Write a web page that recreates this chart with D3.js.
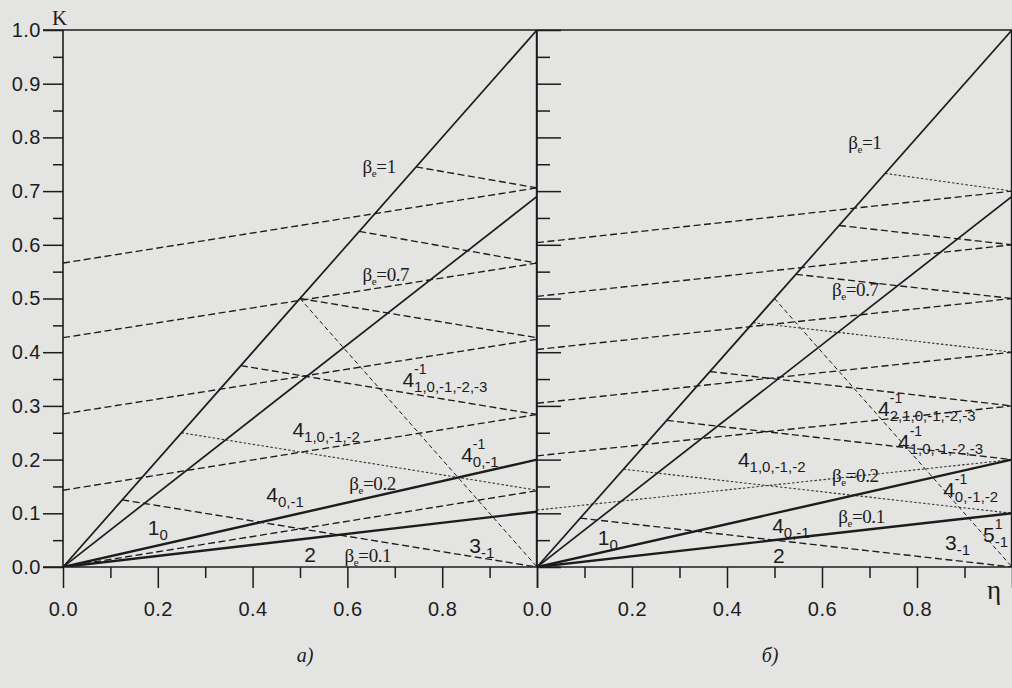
<!DOCTYPE html>
<html><head><meta charset="utf-8">
<script src="https://cdn.jsdelivr.net/npm/d3@7"></script>
<style>
html,body{margin:0;padding:0;background:#e4e4e2;}
svg{display:block;}
</style></head><body>
<svg id="c" width="1012" height="688"></svg>
<script>
// ---------- data ----------
const kTickMajor = [0,0.1,0.2,0.3,0.4,0.5,0.6,0.7,0.8,0.9,1.0];
const kTickMinor = [0.05,0.15,0.25,0.35,0.45,0.55,0.65,0.75,0.85,0.95];
const etaTickMajor = [0,0.2,0.4,0.6,0.8,1.0];
const etaTickMinor = [0.1,0.3,0.5,0.7,0.9];
const etaTickLabels = ["0.0","0.2","0.4","0.6","0.8",""];

// solid lines K = f(eta) from origin to eta=1
const betaNames = ["1","0.7","0.2","0.1"];
const betaEndA = [1.0,0.69,0.2,0.103];
const betaEndB = [1.0,0.69,0.2,0.1];

// panel a: rising dashed lines (K at eta=0 -> K at eta=1)
const riseStartA = [0,0.143,0.285,0.427,0.566];
const riseEndA   = [0.142,0.284,0.424,0.566,0.706];
const riseStyleA = ["dash","dash","dash","dash","dash"];
// panel a: falling lines leaving the beta=1 line at eta (=K) and ending at eta=1
const fallStartA = [0.125,0.25,0.375,0.5,0.625,0.745];
const fallEndA   = [0,0.143,0.284,0.427,0.566,0.706];
const fallStyleA = ["dash","dot","dash","dash","dash","dash"];

// panel b
const riseStartB = [0.106,0.207,0.305,0.405,0.504,0.604];
const riseEndB   = [0.2,0.3,0.4,0.5,0.6,0.7];
const riseStyleB = ["dot","dash","dash","dash","dash","dash"];
const fallStartB = [0.091,0.182,0.273,0.364,0.455,0.545,0.636,0.733];
const fallEndB   = [0,0.1,0.2,0.3,0.4,0.5,0.6,0.7];
const fallStyleB = ["dash","dot","dash","dash","dot","dash","dash","dot"];

// steep cut-off line (eta,K) -> (eta,K)
const cutoffLine = [[0.5,0.5],[1,0]];

// annotation texts
const orderMainA = ["4","4","4","4","1","2","3"];
const orderSubA  = ["1,0,-1,-2,-3","1,0,-1,-2","0,-1","0,-1","0","","-1"];
const orderSupA  = ["-1","","-1","","","",""];
const orderMainB = ["4","4","4","4","4","1","2","3","5"];
const orderSubB  = ["2,1,0,-1,-2,-3","1,0,-1,-2,-3","1,0,-1,-2","0,-1,-2","0,-1","0","","-1","-1"];
const orderSupB  = ["-1","-1","","-1","","","","","1"];
const panelCaptions = ["а)","б)"];

// ---------- layout ----------
const betaPosA = [[0.632,0.733],[0.632,0.532],[0.604,0.144],[0.594,0.009]];
const betaPosB = [[0.655,0.778],[0.621,0.504],[0.621,0.159],[0.634,0.082]];
const orderPosA = [[0.716,0.336],[0.484,0.243],[0.84,0.196],[0.429,0.121],[0.179,0.06],[0.509,0.009],[0.857,0.026]];
const orderPosB = [[0.718,0.281],[0.76,0.219],[0.423,0.187],[0.855,0.131],[0.495,0.063],[0.128,0.041],[0.497,0.007],[0.859,0.032],[0.939,0.047]];

const Y0 = 567, Y1 = 30;
const INK = "#1c1c1c";
const SANS = "'Liberation Sans', Arial, sans-serif";
const SERIF = "'Liberation Serif', 'Times New Roman', serif";
const svg = d3.select("#c");
svg.append("rect").attr("width",1012).attr("height",688).attr("fill","#e4e4e2");

const yS = d3.scaleLinear().domain([0,1]).range([Y0,Y1]);
const panels = [
  {x0:63, x1:537, betaEnd:betaEndA, riseS:riseStartA, riseE:riseEndA, riseSt:riseStyleA,
   fallS:fallStartA, fallE:fallEndA, fallSt:fallStyleA, betaPos:betaPosA,
   oMain:orderMainA, oSub:orderSubA, oSup:orderSupA, oPos:orderPosA, left:true, cap:panelCaptions[0], capX:305},
  {x0:537, x1:1012, betaEnd:betaEndB, riseS:riseStartB, riseE:riseEndB, riseSt:riseStyleB,
   fallS:fallStartB, fallE:fallEndB, fallSt:fallStyleB, betaPos:betaPosB,
   oMain:orderMainB, oSub:orderSubB, oSup:orderSupB, oPos:orderPosB, left:false, cap:panelCaptions[1], capX:770}
];

function styleLine(sel, st){
  if (st === "dash") sel.attr("stroke",INK).attr("stroke-width",1.35).attr("stroke-dasharray","7,3.5");
  else if (st === "dot") sel.attr("stroke","#333").attr("stroke-width",1.1).attr("stroke-dasharray","2.5,2");
  else if (st === "fine") sel.attr("stroke",INK).attr("stroke-width",1).attr("stroke-dasharray","4.5,3");
  return sel;
}

panels.forEach(p => {
  const xS = d3.scaleLinear().domain([0,1]).range([p.x0,p.x1]);
  const g = svg.append("g");
  const lineGen = d3.line().x(d=>xS(d[0])).y(d=>yS(d[1]));

  // frame
  g.append("line").attr("x1",p.left?43:p.x0).attr("x2",p.x1).attr("y1",Y1).attr("y2",Y1).attr("stroke",INK).attr("stroke-width",1.6);
  g.append("line").attr("x1",p.left?43:p.x0).attr("x2",p.x1).attr("y1",Y0).attr("y2",Y0).attr("stroke",INK).attr("stroke-width",1.6);
  g.append("line").attr("x1",p.x0).attr("x2",p.x0).attr("y1",Y1).attr("y2",Y0).attr("stroke",INK).attr("stroke-width",1.6);
  g.append("line").attr("x1",p.x1-0.5).attr("x2",p.x1-0.5).attr("y1",Y1).attr("y2",Y0).attr("stroke",INK).attr("stroke-width",1.4);

  // x axis ticks
  const axMaj = d3.axisBottom(xS).tickValues(etaTickMajor).tickSize(21).tickPadding(14)
      .tickFormat((d,i)=>etaTickLabels[i]);
  const axMin = d3.axisBottom(xS).tickValues(etaTickMinor).tickSize(11).tickFormat("");
  const gx = g.append("g").attr("transform",`translate(0,${Y0})`).call(axMaj);
  g.append("g").attr("transform",`translate(0,${Y0})`).call(axMin).select(".domain").remove();
  gx.select(".domain").remove();
  gx.selectAll(".tick text").attr("font-family",SANS).attr("font-size",20).attr("fill",INK).attr("letter-spacing",0.5);

  // y axis ticks
  if (p.left){
    const ayMaj = d3.axisLeft(yS).tickValues(kTickMajor).tickSize(20).tickPadding(2).tickFormat(d3.format(".1f"));
    const ayMin = d3.axisLeft(yS).tickValues(kTickMinor).tickSize(10).tickFormat("");
    const gy = g.append("g").attr("transform",`translate(${p.x0},0)`).call(ayMaj);
    gy.select(".domain").remove();
    gy.selectAll(".tick text").attr("font-family",SANS).attr("font-size",20).attr("fill",INK).attr("letter-spacing",0.5);
    const gy2 = g.append("g").attr("transform",`translate(${p.x0},0)`).call(ayMin);
    gy2.select(".domain").remove();
  } else {
    const ayMaj = d3.axisRight(yS).tickValues(kTickMajor).tickSize(24).tickFormat("");
    const ayMin = d3.axisRight(yS).tickValues(kTickMinor).tickSize(13).tickFormat("");
    const gy = g.append("g").attr("transform",`translate(${p.x0},0)`).call(ayMaj);
    gy.select(".domain").remove();
    const gy2 = g.append("g").attr("transform",`translate(${p.x0},0)`).call(ayMin);
    gy2.select(".domain").remove();
  }
  g.selectAll(".tick line").attr("stroke",INK).attr("stroke-width",1.5);

  // clip for data lines
  const cid = "clip"+(p.left?"a":"b");
  svg.append("clipPath").attr("id",cid).append("rect").attr("x",p.x0).attr("y",Y1).attr("width",p.x1-p.x0).attr("height",Y0-Y1);
  const dg = g.append("g").attr("clip-path",`url(#${cid})`).attr("fill","none");

  // rising dashed
  p.riseS.forEach((s,i)=>{
    styleLine(dg.append("path").attr("d",lineGen([[0,s],[1,p.riseE[i]]])), p.riseSt[i]);
  });
  // falling dashed
  p.fallS.forEach((s,i)=>{
    styleLine(dg.append("path").attr("d",lineGen([[s,s],[1,p.fallE[i]]])), p.fallSt[i]);
  });
  // cutoff
  styleLine(dg.append("path").attr("d",lineGen(cutoffLine)), "fine");
  // solid beta lines
  p.betaEnd.forEach((e,i)=>{
    dg.append("path").attr("d",lineGen([[0,0],[1,e]])).attr("stroke",INK)
      .attr("stroke-width", i<2 ? 1.7 : 2.4);
  });

  // beta labels
  betaNames.forEach((b,i)=>{
    const t = g.append("text").attr("x",xS(p.betaPos[i][0])).attr("y",yS(p.betaPos[i][1]))
      .attr("font-family",SERIF).attr("font-size",19).attr("fill",INK).attr("letter-spacing",-0.4);
    t.append("tspan").text("β");
    t.append("tspan").attr("font-size",11).attr("dy",4).text("e");
    t.append("tspan").attr("dy",-4).text("="+b);
  });

  // order labels
  p.oMain.forEach((m,i)=>{
    const x = xS(p.oPos[i][0]), y = yS(p.oPos[i][1]);
    const t = g.append("text").attr("x",x).attr("y",y).attr("font-family",SANS).attr("font-size",21).attr("fill",INK);
    const mt = t.append("tspan").text(m);
    if (p.oSub[i]) t.append("tspan").attr("font-size",15).attr("dy",5).text(p.oSub[i]);
    if (p.oSup[i]) {
      const w = mt.node().getComputedTextLength();
      g.append("text").attr("x",x+w).attr("y",y-13).attr("font-family",SANS).attr("font-size",14).attr("fill",INK).text(p.oSup[i]);
    }
  });

  // caption
  g.append("text").attr("x",p.capX).attr("y",662).attr("text-anchor","middle")
    .attr("font-family",SERIF).attr("font-style","italic").attr("font-size",20).attr("fill",INK).text(p.cap);
});

// axis titles
svg.append("text").attr("x",52).attr("y",25).attr("font-family",SERIF).attr("font-size",21).attr("fill",INK).text("K");
svg.append("text").attr("x",987).attr("y",599).attr("font-family",SERIF).attr("font-size",27).attr("fill",INK).text("η");
</script></body></html>
